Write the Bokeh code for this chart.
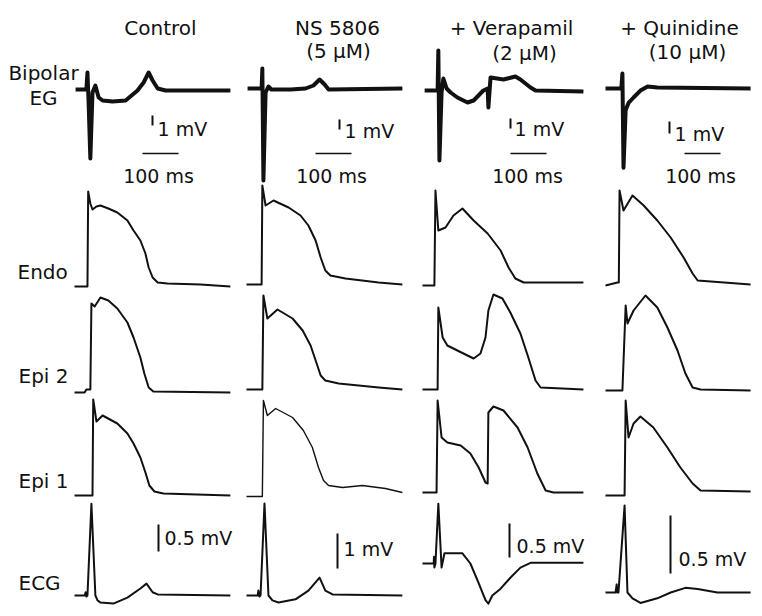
from bokeh.plotting import figure
from bokeh.models import Range1d, ColumnDataSource
from bokeh.core.properties import value
from bokeh.embed import file_html
from bokeh.resources import INLINE

# ---------------- text ----------------
CONDITIONS = ["Control", "NS 5806", "+ Verapamil", "+ Quinidine"]
CONCENTRATIONS = ["", "(5 μM)", "(2 μM)", "(10 μM)"]
ROW_LABELS = ["Endo", "Epi 2", "Epi 1", "ECG"]
EG_LABEL = ["Bipolar", "EG"]

# ---------------- scale bars ----------------
EG_BAR_MV = [1, 1, 1, 1]
TIME_BAR_MS = [100, 100, 100, 100]
ECG_BAR_MV = [0.5, 1, 0.5, 0.5]

# ---------------- data: time (ms), voltage (mV) ----------------
# Control
EG_CTRL_T = [3, 33, 36, 39, 44, 50, 58, 67, 78, 106, 142, 175, 192, 206, 217, 231, 253, 433]
EG_CTRL_MV = [0, 0, 1.7, -1.1, -6.9, -0.3, 0.4, -0.8, -1.1, -1.2, -1.1, -0.1, 0.7, 1.7, 0.9, 0.1, -0.1, -0.1]
ENDO_CTRL_T = [0, 36, 38, 44, 50, 61, 72, 94, 119, 147, 164, 183, 197, 206, 217, 231, 258, 350, 433]
ENDO_CTRL_MV = [-85, -85, 10, -2, -8, -5, -4, -7, -11, -19, -29, -39, -52, -66, -76, -81, -82, -83, -85]
EPI2_CTRL_T = [0, 28, 33, 44, 47, 56, 72, 94, 119, 147, 164, 183, 194, 206, 219, 433]
EPI2_CTRL_MV = [-85, -85, -82, -82, 4, 1, 10, 7, -1, -15, -30, -50, -66, -80, -84, -85]
EPI1_CTRL_T = [0, 50, 52, 61, 78, 119, 147, 164, 183, 197, 208, 222, 247, 433]
EPI1_CTRL_MV = [-85, -85, 11, -11, -5, -13, -23, -33, -47, -62, -75, -81, -83, -85]
ECG_CTRL_T = [0, 28, 31, 33, 36, 47, 58, 64, 72, 108, 147, 183, 200, 217, 231, 433]
ECG_CTRL_MV = [0, 0, 0.06, -0.02, 0, 1.70, 0, -0.09, -0.13, -0.15, -0.04, 0.13, 0.22, 0.06, 0.02, 0]

# NS 5806
EG_NS_T = [3, 42, 44, 47, 53, 61, 69, 122, 164, 186, 203, 217, 228, 433]
EG_NS_MV = [0, 0, 2.0, -9.2, -0.4, 0.2, -0.1, -0.1, 0, 0.3, 0.9, 0.4, -0.1, 0]
ENDO_NS_T = [0, 42, 44, 53, 75, 117, 150, 172, 192, 206, 219, 233, 275, 367, 433]
ENDO_NS_MV = [-85, -85, 14, -6, -1, -8, -16, -26, -41, -58, -71, -76, -79, -83, -85]
EPI2_NS_T = [0, 44, 47, 58, 86, 128, 156, 178, 194, 206, 219, 256, 367, 433]
EPI2_NS_MV = [-85, -85, 9, -14, -5, -14, -26, -41, -58, -71, -76, -79, -83, -85]
EPI1_NS_T = [0, 44, 47, 58, 81, 128, 158, 183, 200, 214, 228, 267, 322, 386, 433]
EPI1_NS_MV = [-85, -85, 11, -4, 3, -6, -19, -36, -56, -69, -74, -76, -74, -77, -81]
ECG_NS_T = [0, 31, 33, 36, 39, 50, 61, 72, 89, 136, 172, 203, 219, 239, 433]
ECG_NS_MV = [0, 0, 0.14, -0.03, 0, 2.63, 0, -0.14, -0.2, -0.11, 0.14, 0.51, 0.14, 0.03, 0]

# + Verapamil
EG_VER_T = [6, 42, 44, 47, 53, 58, 67, 78, 97, 125, 142, 169, 181, 183, 189, 225, 258, 272, 300, 314, 447]
EG_VER_MV = [0, 0, 4.0, -7.0, -0.2, 1.2, 0.2, -0.2, -0.7, -1.2, -1.0, 0, 0.2, -1.7, 1.3, 1.1, 1.4, 1.1, 0.3, 0, -0.1]
ENDO_VER_T = [0, 33, 36, 44, 64, 86, 111, 142, 181, 217, 239, 258, 281, 447]
ENDO_VER_MV = [-85, -85, 10, -30, -27, -15, -8, -20, -33, -50, -67, -78, -82, -82]
EPI2_VER_T = [0, 42, 44, 56, 69, 97, 125, 142, 161, 175, 183, 197, 222, 244, 272, 294, 314, 328, 447]
EPI2_VER_MV = [-85, -85, -3, -33, -41, -46, -51, -54, -49, -33, -6, 10, 6, -8, -29, -53, -76, -83, -85]
EPI1_VER_T = [0, 39, 42, 53, 69, 106, 133, 156, 175, 181, 183, 197, 225, 264, 292, 319, 342, 364, 447]
EPI1_VER_MV = [-85, -85, 7, -30, -35, -38, -46, -60, -75, -76, -5, 1, -3, -20, -40, -66, -83, -85, -85]
ECG_VER_T = [0, 31, 32, 33, 36, 44, 53, 61, 111, 133, 156, 175, 183, 194, 217, 244, 272, 300, 447]
ECG_VER_MV = [0, 0, 0.1, -0.06, 0, 0.88, -0.06, 0.15, 0.15, 0, -0.29, -0.54, -0.59, -0.47, -0.37, -0.21, -0.06, 0.01, 0.01]

# + Quinidine
EG_QUI_T = [0, 44, 47, 50, 56, 64, 78, 97, 117, 144, 403]
EG_QUI_MV = [0, 0, 1.25, -6.6, -1.8, -1.2, -0.75, -0.17, 0.17, 0.08, 0]
ENDO_QUI_T = [0, 33, 37, 39, 50, 75, 106, 144, 181, 217, 242, 256, 403]
ENDO_QUI_MV = [-85, -82, -82, 10, -10, 5, -5, -20, -37, -57, -73, -80, -84]
EPI2_QUI_T = [0, 47, 56, 61, 78, 111, 144, 172, 200, 222, 242, 264, 403]
EPI2_QUI_MV = [-85, -85, 0, -18, -5, 10, -2, -22, -45, -68, -82, -84, -85]
EPI1_QUI_T = [0, 53, 56, 64, 78, 97, 133, 172, 208, 242, 264, 403]
EPI1_QUI_MV = [-85, -85, 10, -27, -13, -6, -17, -37, -57, -73, -80, -81]
ECG_QUI_T = [0, 28, 31, 33, 36, 53, 61, 75, 97, 144, 181, 222, 256, 311, 403]
ECG_QUI_MV = [0, 0, 0.07, 0, 0, 0.75, 0, -0.05, -0.09, -0.05, 0, 0.04, 0.03, 0, 0]

# ---------------- layout (pixels of the picture) ----------------
PX_PER_MS = 0.36
AP_PX_PER_MV = 1.0
V_REST = -85
COL_X0 = [74, 246, 422, 605]
EG_BASE_Y = [89, 88, 90, 88]
EG_PX_PER_MV = [10, 10, 10, 12]
ENDO_BASE_Y = [286, 284, 285, 285]
EPI2_BASE_Y = [392, 389, 389, 390]
EPI1_BASE_Y = [495, 496, 492, 495]
ECG_BASE_Y = [595, 595, 563, 592]
ECG_PX_PER_MV = [54, 35, 68, 116]

FONT = value("DejaVu Sans")
INK = "#111111"

p = figure(width=762, height=616, x_range=Range1d(0, 762), y_range=Range1d(616, 0),
           x_axis_type=None, y_axis_type=None, toolbar_location=None,
           output_backend="svg", min_border=0,
           background_fill_color="white", border_fill_color="white")
p.outline_line_color = None

EG = [(EG_CTRL_T, EG_CTRL_MV), (EG_NS_T, EG_NS_MV), (EG_VER_T, EG_VER_MV), (EG_QUI_T, EG_QUI_MV)]
ENDO = [(ENDO_CTRL_T, ENDO_CTRL_MV), (ENDO_NS_T, ENDO_NS_MV), (ENDO_VER_T, ENDO_VER_MV), (ENDO_QUI_T, ENDO_QUI_MV)]
EPI2 = [(EPI2_CTRL_T, EPI2_CTRL_MV), (EPI2_NS_T, EPI2_NS_MV), (EPI2_VER_T, EPI2_VER_MV), (EPI2_QUI_T, EPI2_QUI_MV)]
EPI1 = [(EPI1_CTRL_T, EPI1_CTRL_MV), (EPI1_NS_T, EPI1_NS_MV), (EPI1_VER_T, EPI1_VER_MV), (EPI1_QUI_T, EPI1_QUI_MV)]
ECG = [(ECG_CTRL_T, ECG_CTRL_MV), (ECG_NS_T, ECG_NS_MV), (ECG_VER_T, ECG_VER_MV), (ECG_QUI_T, ECG_QUI_MV)]


def xs(c, t):
    return [COL_X0[c] + ti * PX_PER_MS for ti in t]


for c in range(4):
    t, v = EG[c]
    p.line(xs(c, t), [EG_BASE_Y[c] - vi * EG_PX_PER_MV[c] for vi in v],
           line_color=INK, line_width=4, line_join="round")
    for rows, base in ((ENDO, ENDO_BASE_Y), (EPI2, EPI2_BASE_Y), (EPI1, EPI1_BASE_Y)):
        t, v = rows[c]
        lw = 1.4 if (rows is EPI1 and c == 1) else 2
        p.line(xs(c, t), [base[c] - (vi - V_REST) * AP_PX_PER_MV for vi in v],
               line_color=INK, line_width=lw, line_join="round")
    t, v = ECG[c]
    p.line(xs(c, t), [ECG_BASE_Y[c] - vi * ECG_PX_PER_MV[c] for vi in v],
           line_color=INK, line_width=2, line_join="round")

# ---------------- scale bars ----------------
EG_BAR_X = [152, 339, 510, 669]
EG_BAR_BOTTOM = [125, 129, 128, 133]
EG_TXT_X = [157, 344, 514, 674]
EG_TXT_Y = [128, 130, 128, 133]
TIME_BAR_X = [142, 315, 510, 684]
TIME_BAR_Y = 153
TIME_TXT_X = [158, 331, 527, 700]
TIME_TXT_Y = 175
ECG_BAR_X = [158, 337, 509, 670]
ECG_BAR_BOTTOM = [551, 568, 557, 573]
ECG_TXT_X = [164, 343, 516, 678]
ECG_TXT_Y = [537, 548, 545, 558]

for c in range(4):
    p.segment(x0=[EG_BAR_X[c]], y0=[EG_BAR_BOTTOM[c]], x1=[EG_BAR_X[c]],
              y1=[EG_BAR_BOTTOM[c] - EG_BAR_MV[c] * EG_PX_PER_MV[c]], line_color=INK, line_width=2)
    p.segment(x0=[TIME_BAR_X[c]], y0=[TIME_BAR_Y], x1=[TIME_BAR_X[c] + TIME_BAR_MS[c] * PX_PER_MS],
              y1=[TIME_BAR_Y], line_color=INK, line_width=1.6)
    p.segment(x0=[ECG_BAR_X[c]], y0=[ECG_BAR_BOTTOM[c]], x1=[ECG_BAR_X[c]],
              y1=[ECG_BAR_BOTTOM[c] - ECG_BAR_MV[c] * ECG_PX_PER_MV[c]], line_color=INK, line_width=2)

scale_src = ColumnDataSource(dict(
    x=EG_TXT_X + ECG_TXT_X,
    y=EG_TXT_Y + ECG_TXT_Y,
    text=[f"{m:g} mV" for m in EG_BAR_MV] + [f"{m:g} mV" for m in ECG_BAR_MV],
))
p.text(x="x", y="y", text="text", source=scale_src, text_font=FONT, text_font_size="19px",
       text_color=INK, text_align="left", text_baseline="alphabetic")
time_src = ColumnDataSource(dict(x=TIME_TXT_X, y=[TIME_TXT_Y] * 4,
                                 text=[f"{m:g} ms" for m in TIME_BAR_MS]))
p.text(x="x", y="y", text="text", source=time_src, text_font=FONT, text_font_size="19px",
       text_color=INK, text_align="center", text_baseline="alphabetic")

# ---------------- titles ----------------
TITLE_X = [160, 337, 511, 679]
TITLE_Y = 27
CONC_X = [160, 338, 524, 687]
CONC_Y = [50, 50, 52, 51]
title_src = ColumnDataSource(dict(x=TITLE_X + CONC_X, y=[TITLE_Y] * 4 + CONC_Y,
                                  text=CONDITIONS + CONCENTRATIONS))
p.text(x="x", y="y", text="text", source=title_src, text_font=FONT, text_font_size="20px",
       text_color=INK, text_align="center", text_baseline="alphabetic")

# ---------------- row labels ----------------
eg_src = ColumnDataSource(dict(x=[43, 43], y=[72, 97], text=EG_LABEL))
p.text(x="x", y="y", text="text", source=eg_src, text_font=FONT, text_font_size="20px",
       text_color=INK, text_align="center", text_baseline="alphabetic")
row_src = ColumnDataSource(dict(x=[17, 18, 18, 18], y=[271, 375, 480, 582], text=ROW_LABELS))
p.text(x="x", y="y", text="text", source=row_src, text_font=FONT, text_font_size="20px",
       text_color=INK, text_align="left", text_baseline="alphabetic")

open("out.html", "w").write(file_html(p, INLINE))
